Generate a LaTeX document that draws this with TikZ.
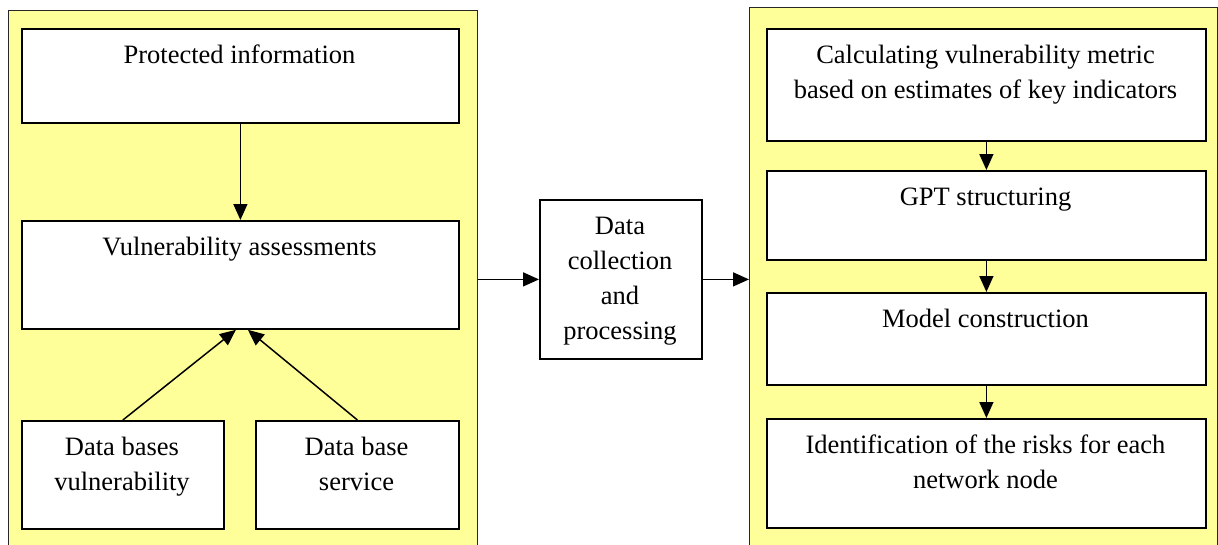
\documentclass[tikz,border=0pt]{standalone}
\usepackage{fontspec}
\setmainfont{Liberation Serif}
\usetikzlibrary{arrows.meta}
\definecolor{panelyellow}{HTML}{FFFF99}
\begin{document}
\begin{tikzpicture}[x=1pt,y=-1pt,
  panel/.style={draw=black!85, line width=1.4pt, fill=panelyellow, inner sep=0pt, anchor=north west},
  box/.style={draw=black, line width=1.8pt, fill=white, inner sep=0pt, anchor=north west},
  lbl/.style={font=\fontsize{26.5}{35}\selectfont, align=center, inner sep=0pt, anchor=base},
  arr/.style={-{Triangle[length=16pt,width=14pt]}, line width=1.5pt}]
\useasboundingbox (0,0) rectangle (1218,544);
\fill[white] (0,0) rectangle (1218,544);
% panels
\node[panel, minimum width=469pt, minimum height=560pt] (LP) at (8,10) {};
\node[panel, minimum width=468pt, minimum height=560pt] (RP) at (749,7) {};
% left boxes
\node[box, minimum width=437pt, minimum height=94pt] (PI) at (21,28) {};
\node[box, minimum width=437pt, minimum height=108pt] (VA) at (21,220) {};
\node[box, minimum width=202pt, minimum height=108pt] (DBV) at (21,420) {};
\node[box, minimum width=203pt, minimum height=108pt] (DBS) at (255,420) {};
% middle
\node[box, minimum width=162pt, minimum height=159pt] (MID) at (539,199) {};
% right boxes
\node[box, minimum width=439pt, minimum height=112pt] (C1) at (766,28) {};
\node[box, minimum width=439pt, minimum height=89pt] (C2) at (766,170) {};
\node[box, minimum width=439pt, minimum height=92pt] (C3) at (766,292) {};
\node[box, minimum width=439pt, minimum height=109pt] (C4) at (766,418) {};
% labels (multi-line nodes are placed at the baseline of their last line)
\node[lbl] (tPI) at (239.5,63) {Protected information};
\node[lbl] (tVA) at (239.5,255) {Vulnerability assessments};
\node[lbl] (tDBV) at (122,490) {Data bases\\vulnerability};
\node[lbl] (tDBS) at (356.5,490) {Data base\\service};
\node[lbl] (tMID) at (620,339) {Data\\collection\\and\\processing};
\node[lbl] (tC1) at (985.5,98) {Calculating vulnerability metric\\based on estimates of key indicators};
\node[lbl] (tC2) at (985.5,205) {GPT structuring};
\node[lbl] (tC3) at (985.5,327) {Model construction};
\node[lbl] (tC4) at (985.5,488) {Identification of the risks for each\\network node};
% connectors
\coordinate (VAin1) at ([xshift=-4.5pt]VA.south);
\coordinate (VAin2) at ([xshift=7.5pt]VA.south);
\draw[arr] (PI.south) -- (VA.north);
\draw[arr] (DBV.north) -- (VAin1);
\draw[arr] (DBS.north) -- (VAin2);
\draw[arr] (MID.west -| LP.east) -- (MID.west);
\draw[arr] (MID.east) -- (MID.east -| RP.west);
\draw[arr] (C1.south) -- (C2.north);
\draw[arr] (C2.south) -- (C3.north);
\draw[arr] (C3.south) -- (C4.north);
\end{tikzpicture}
\end{document}
